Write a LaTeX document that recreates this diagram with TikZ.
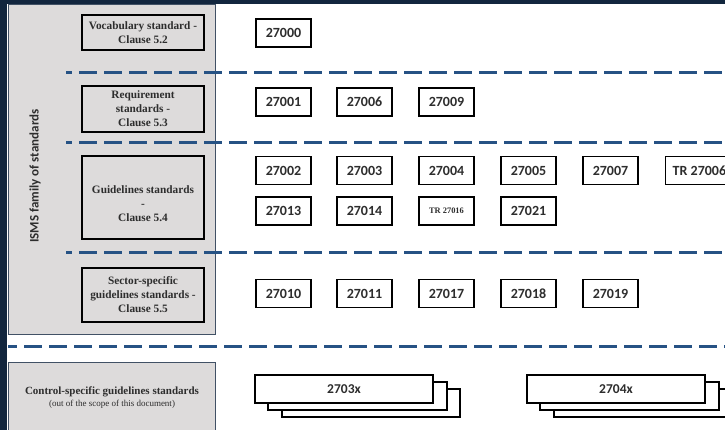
\documentclass[tikz,border=0pt]{standalone}
\usepackage{fontspec}
\setmainfont{Liberation Serif}
\newfontfamily\numfont{Carlito}
\begin{document}
\begin{tikzpicture}[x=1pt,y=-1pt,
  panelgray/.style={fill=panelfill},
  labelbox/.style={draw=black,line width=1.4pt,fill=panelfill},
  labeltext/.style={font=\bfseries\fontsize{11.3}{14}\selectfont,text=textdark,align=center},
  numbox/.style={draw=black,line width=1.4pt,fill=white,minimum width=55pt,minimum height=28pt,inner sep=0pt,
     font=\numfont\bfseries\fontsize{14}{15}\selectfont,text=textdark},
  stackbox/.style={draw=black,line width=1.2pt,fill=white},
  sepline/.style={draw=sepblue,line width=3pt,dash pattern=on 18pt off 7pt}
]
\definecolor{navy}{RGB}{18,38,62}
\definecolor{panelfill}{RGB}{221,219,219}
\definecolor{textdark}{RGB}{45,45,45}
\definecolor{sepblue}{RGB}{38,82,132}
\useasboundingbox (0,0) rectangle (725,430);
\clip (0,0) rectangle (725,430);
\fill[white] (0,0) rectangle (725,430);
% frame
\fill[navy] (0,0) rectangle (725,4);
\fill[navy] (0,0) rectangle (7,430);
% grey panel
\path[panelgray,draw=navy!80,line width=1pt] (8,5) rectangle (215,334);
% label boxes
\path[labelbox] (82,15) rectangle (204,50);
\node[labeltext] (voc) at (143,33) {Vocabulary standard -\\Clause 5.2};
\path[labelbox] (82,86) rectangle (204,132);
\node[labeltext] (req) at (143,109) {Requirement\\standards -\\Clause 5.3};
\path[labelbox] (82,156) rectangle (204,239);
\node[labeltext] (gui) at (143,204) {Guidelines standards\\-\\Clause 5.4};
\path[labelbox] (82,268) rectangle (204,322);
\node[labeltext] (sec) at (143,295) {Sector-specific\\guidelines standards -\\Clause 5.5};
\node[font=\numfont\bfseries\fontsize{13}{14}\selectfont,text=textdark,rotate=90] (isms) at (35,176) {ISMS family of standards};
% separators
\draw[sepline,dash phase=12pt] (66,73) -- (725,73);
\draw[sepline,dash phase=12pt] (66,143) -- (725,143);
\draw[sepline,dash phase=12pt] (66,253) -- (725,253);
\draw[sepline,dash phase=9pt] (8,346) -- (725,346);
% bottom box
\path[panelgray,draw=navy!80,line width=1pt] (8,362) rectangle (215,434);
\node[labeltext,font=\bfseries\fontsize{11}{12}\selectfont] (ctl) at (112,392) {Control-specific guidelines standards};
\node[labeltext,font=\fontsize{9}{10}\selectfont] (ctlsub) at (112,404) {(out of the scope of this document)};
% number boxes
\node[numbox] (n27000) at (283.5,33) {27000};
\node[numbox] (n27001) at (283.5,102) {27001};
\node[numbox] (n27006) at (364.5,102) {27006};
\node[numbox] (n27009) at (446.5,102) {27009};
\node[numbox] (n27002) at (283.5,170.5) {27002};
\node[numbox] (n27003) at (364.5,170.5) {27003};
\node[numbox] (n27004) at (446.5,170.5) {27004};
\node[numbox] (n27005) at (528.5,170.5) {27005};
\node[numbox] (n27007) at (610.5,170.5) {27007};
\node[numbox,anchor=west] (n27006tr) at (665,170.5) {\hspace*{7pt}TR 27006\hspace*{10pt}};
\node[numbox] (n27013) at (283.5,211) {27013};
\node[numbox] (n27014) at (364.5,211) {27014};
\node[numbox,font=\bfseries\fontsize{8.4}{10}\selectfont] (n27016) at (446.5,211) {TR 27016};
\node[numbox] (n27021) at (528.5,211) {27021};
\node[numbox] (n27010) at (283.5,293.5) {27010};
\node[numbox] (n27011) at (364.5,293.5) {27011};
\node[numbox] (n27017) at (446.5,293.5) {27017};
\node[numbox] (n27018) at (528.5,293.5) {27018};
\node[numbox] (n27019) at (610.5,293.5) {27019};
% stacked boxes
\path[stackbox] (282,389) rectangle (460,417);
\path[stackbox] (268,382) rectangle (447,410);
\path[stackbox] (255,375) rectangle (433,403);
\node[font=\numfont\bfseries\fontsize{13.5}{14}\selectfont,text=textdark] (s3) at (344,389) {2703x};
\path[stackbox] (554,389) rectangle (732,417);
\path[stackbox] (540,382) rectangle (719,410);
\path[stackbox] (527,375) rectangle (705,403);
\node[font=\numfont\bfseries\fontsize{13.5}{14}\selectfont,text=textdark] (s4) at (616,389) {2704x};
\end{tikzpicture}
\end{document}
